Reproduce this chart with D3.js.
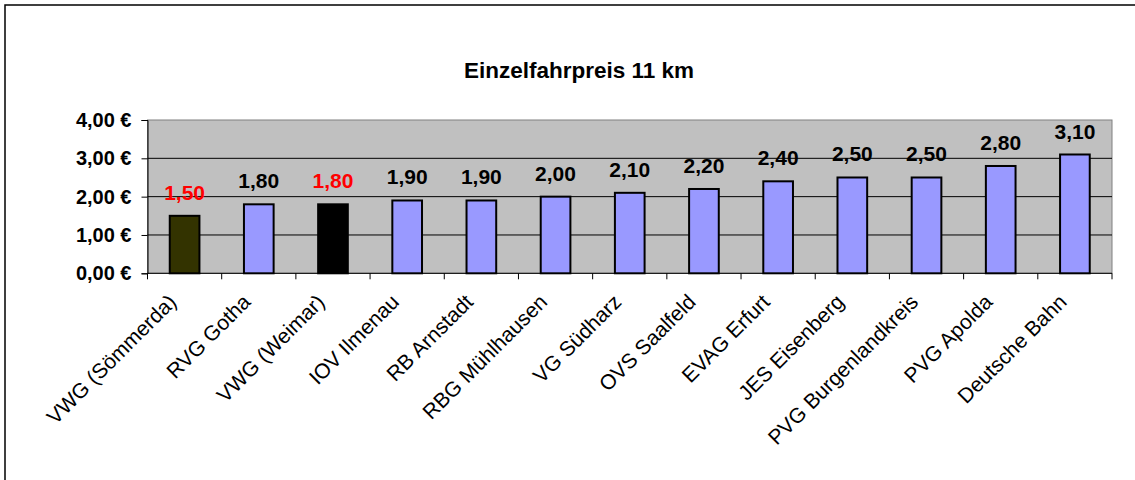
<!DOCTYPE html>
<html>
<head>
<meta charset="utf-8">
<script src="https://cdn.jsdelivr.net/npm/d3@7"></script>
<style>
  body { margin: 0; background: #fff; }
  text { font-family: "Liberation Sans", Arial, sans-serif; }
</style>
</head>
<body>
<div id="chart"></div>
<script>
// data
const categories = ["VWG (Sömmerda)", "RVG Gotha", "VWG (Weimar)", "IOV Ilmenau", "RB Arnstadt",
  "RBG Mühlhausen", "VG Südharz", "OVS Saalfeld", "EVAG Erfurt", "JES Eisenberg",
  "PVG Burgenlandkreis", "PVG Apolda", "Deutsche Bahn"];
const prices = [1.50, 1.80, 1.80, 1.90, 1.90, 2.00, 2.10, 2.20, 2.40, 2.50, 2.50, 2.80, 3.10];
const highlight = ["VWG (Sömmerda)", "VWG (Weimar)"];
const yTicks = [0, 1, 2, 3, 4];
const title = "Einzelfahrpreis 11 km";

var cfg = {
  w: 1135,
  h: 480,
  margin: {top: 120, right: 23, bottom: 206.7, left: 147.5},
  barColor: "#9999ff",
  specialColor: {"VWG (Sömmerda)": "#333300", "VWG (Weimar)": "#000000"}
};

const graphW = cfg.w - cfg.margin.left - cfg.margin.right;
const graphH = cfg.h - cfg.margin.top - cfg.margin.bottom;

var root = d3.select("#chart")
  .append("svg")
  .attr("width", cfg.w)
  .attr("height", cfg.h);

// outer chart frame (runs off to the right/bottom)
root.append("rect")
  .attr("x", 5).attr("y", 5)
  .attr("width", 1400).attr("height", 800)
  .attr("fill", "none")
  .attr("stroke", "#000")
  .attr("stroke-width", 1.5);

root.append("text")
  .attr("x", 579).attr("y", 78)
  .attr("text-anchor", "middle")
  .style("font-size", "22.5px")
  .style("font-weight", "bold")
  .text(title);

var svg = root.append("g")
  .attr("transform", "translate(" + cfg.margin.left + "," + cfg.margin.top + ")");

var x = d3.scaleBand()
  .domain(categories)
  .range([0, graphW])
  .paddingInner(0.6)
  .paddingOuter(0.3);

var y = d3.scaleLinear()
  .domain([0, 4])
  .range([graphH, 0]);

// plot area
svg.append("rect")
  .attr("width", graphW).attr("height", graphH)
  .attr("fill", "#c0c0c0")
  .attr("stroke", "#808080")
  .attr("stroke-width", 1);

// gridlines
svg.selectAll(".grid")
  .data(yTicks.filter(d => d > 0 && d < 4))
  .enter().append("line")
  .attr("x1", 0).attr("x2", graphW)
  .attr("y1", d => y(d)).attr("y2", d => y(d))
  .attr("stroke", "#000").attr("stroke-width", 1);

// y axis
var yAxis = svg.append("g")
  .call(d3.axisLeft(y).tickValues(yTicks).tickSize(6).tickPadding(10)
    .tickFormat(d => d3.format(".2f")(d).replace(".", ",") + " €"));
yAxis.select(".domain").attr("stroke", "#000");
yAxis.selectAll("text")
  .style("font-size", "20px")
  .style("font-weight", "bold")
  .style("font-family", "'Liberation Sans', Arial, sans-serif")
  .attr("fill", "#000");

// x axis baseline and boundary ticks
svg.append("line")
  .attr("x1", 0).attr("x2", graphW)
  .attr("y1", graphH).attr("y2", graphH)
  .attr("stroke", "#000");
svg.selectAll(".xtick")
  .data(d3.range(categories.length + 1))
  .enter().append("line")
  .attr("x1", i => i * x.step()).attr("x2", i => i * x.step())
  .attr("y1", graphH).attr("y2", graphH + 6)
  .attr("stroke", "#000");

// bars
svg.selectAll(".bar")
  .data(categories)
  .enter().append("rect")
  .attr("x", (d) => x(d))
  .attr("y", (d, i) => y(prices[i]))
  .attr("width", x.bandwidth())
  .attr("height", (d, i) => graphH - y(prices[i]))
  .attr("fill", d => cfg.specialColor[d] || cfg.barColor)
  .attr("stroke", "#000")
  .attr("stroke-width", 2);

// value labels
svg.selectAll(".val")
  .data(categories)
  .enter().append("text")
  .attr("x", d => x(d) + x.bandwidth() / 2)
  .attr("y", (d, i) => y(prices[i]) - 16)
  .attr("text-anchor", "middle")
  .style("font-size", "21px")
  .style("font-weight", "bold")
  .attr("fill", d => highlight.includes(d) ? "#ff0000" : "#000")
  .text((d, i) => d3.format(".2f")(prices[i]).replace(".", ","));

// category labels
svg.selectAll(".cat")
  .data(categories)
  .enter().append("text")
  .attr("transform", d => "translate(" + (x(d) + x.bandwidth() / 2 - 7) + "," + (graphH + 30) + ") rotate(-45)")
  .attr("text-anchor", "end")
  .style("font-size", "21px")
  .text(d => d);
</script>
</body>
</html>
